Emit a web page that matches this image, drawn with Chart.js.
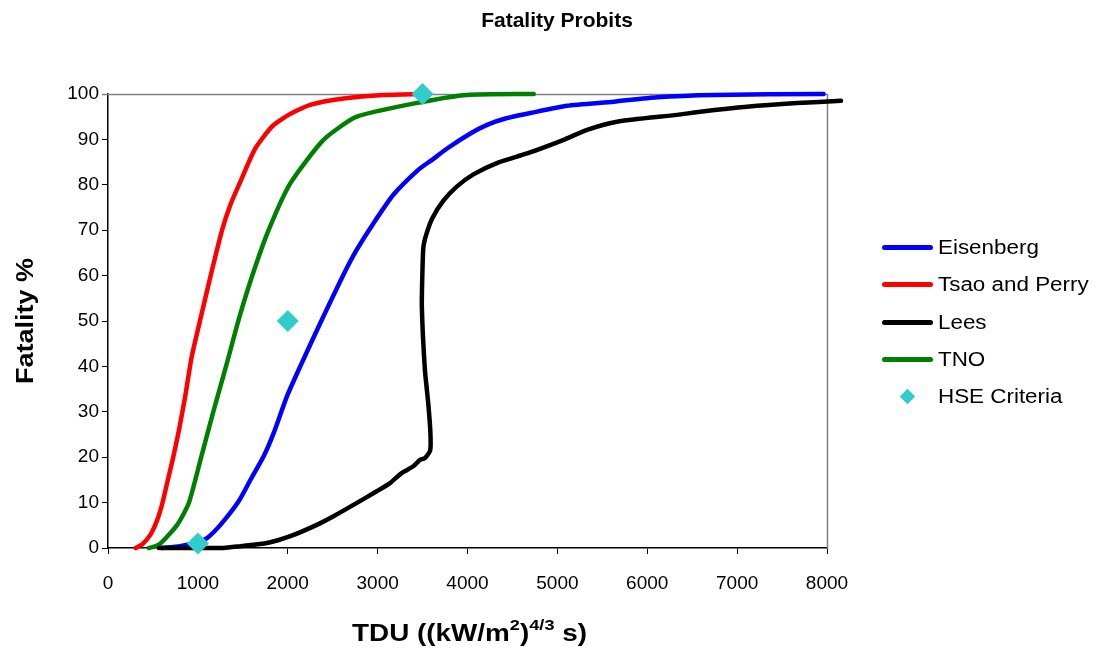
<!DOCTYPE html>
<html>
<head>
<meta charset="utf-8">
<script src="https://cdn.jsdelivr.net/npm/chart.js@4.4.1/dist/chart.umd.min.js"></script>
<style>
html,body{margin:0;padding:0;background:#fff;}
#wrap{position:relative;width:1097px;height:654px;overflow:hidden;}
#c{position:absolute;left:0;top:0;}
#legend{position:absolute;left:0;top:0;width:1097px;height:654px;pointer-events:none;font-family:"Liberation Sans",Arial,sans-serif;color:#000;}
.sw{position:absolute;height:5px;border-radius:2.5px;}
.dm{position:absolute;width:11px;height:11px;background:#33CCCC;transform:rotate(45deg);}
.tx{position:absolute;font-size:20px;line-height:22px;white-space:nowrap;transform:scaleX(1.12);transform-origin:0 50%;}
</style>
</head>
<body>
<div id="wrap">
<canvas id="c" width="1097" height="654"></canvas>
<div id="legend"></div>
</div>
<script>
// ---- data ----
const chartTitle = 'Fatality Probits';
const yTitle = 'Fatality %';
const seriesNames = ['Eisenberg', 'Tsao and Perry', 'Lees', 'TNO', 'HSE Criteria'];
const seriesColors = ['#0000FF', '#FF0000', '#000000', '#008000', '#33CCCC'];

const xTicks = [0, 1000, 2000, 3000, 4000, 5000, 6000, 7000, 8000];
const yTicks = [0, 10, 20, 30, 40, 50, 60, 70, 80, 90, 100];

const eisenbergX = [600, 800, 1000, 1103, 1251, 1454, 1590, 1732, 1843, 1991, 2139, 2361, 2620, 2768, 2953, 3175, 3452, 3606, 3773, 4032, 4218, 4422, 4700, 5108, 5626, 6109, 6739, 7962];
const eisenbergY = [0, 0.4, 1.3, 2.2, 5.1, 10.3, 15.2, 20.2, 25.3, 33.4, 40, 49.5, 60.2, 65.7, 71.5, 77.8, 83.3, 85.5, 88, 91.3, 93.2, 94.6, 95.8, 97.4, 98.3, 99.3, 99.8, 100];

const tsaoX = [307, 381, 474, 548, 603, 660, 720, 790, 860, 930, 1029, 1140, 1269, 1362, 1473, 1639, 1824, 2009, 2250, 2620, 3064, 3500];
const tsaoY = [0, 0.8, 3, 6.2, 9.7, 14.5, 19.5, 26, 33.5, 42, 50.5, 59.8, 70, 75.6, 80.7, 88, 92.8, 95.4, 97.6, 99, 99.8, 100];

const leesX = [566, 1288, 1473, 1769, 2028, 2324, 2509, 2731, 2990, 3138, 3267, 3397, 3471, 3526, 3585, 3587, 3563, 3526, 3492, 3500, 3510, 3545, 3610, 3732, 3880, 4066, 4340, 4663, 5070, 5330, 5664, 6331, 6591, 7110, 7666, 8156];
const leesY = [0, 0, 0.4, 1.1, 2.6, 5.1, 7, 9.5, 12.5, 14.3, 16.5, 18, 19.4, 19.8, 21.5, 25.5, 31.9, 39.3, 53.2, 62, 66.4, 69.3, 72.7, 76.5, 79.6, 82.3, 84.9, 86.9, 89.9, 92.1, 93.9, 95.4, 96.1, 97.2, 98, 98.5];

const tnoX = [455, 566, 770, 899, 1029, 1177, 1320, 1454, 1602, 1787, 2028, 2398, 2768, 3508, 3995, 4737];
const tnoY = [0, 0.7, 5.1, 9.9, 19.4, 30.4, 40.5, 50.3, 59.8, 70, 80.3, 89.9, 95, 98.3, 99.8, 100];

const hseX = [1000, 2000, 3500];
const hseY = [1, 50, 100];

// ---- build ----
const FONT = '"Liberation Sans", Arial, sans-serif';
function pts(xs, ys) { return xs.map((x, i) => ({ x: x, y: ys[i] })); }

function lineSet(i, xs, ys, order) {
  return {
    label: seriesNames[i], data: pts(xs, ys), showLine: true,
    borderColor: seriesColors[i], backgroundColor: seriesColors[i],
    borderWidth: 4.5, pointRadius: 0, pointHoverRadius: 0, tension: 0.2,
    borderCapStyle: 'round', borderJoinStyle: 'round', fill: false, clip: false, order: order
  };
}

const datasets = [
  lineSet(0, eisenbergX, eisenbergY, 3),
  lineSet(1, tsaoX, tsaoY, 5),
  lineSet(2, leesX, leesY, 2),
  lineSet(3, tnoX, tnoY, 4),
  {
    label: seriesNames[4], data: pts(hseX, hseY), showLine: false,
    pointStyle: 'rectRot', pointRadius: 11, pointHoverRadius: 11,
    backgroundColor: seriesColors[4], borderColor: seriesColors[4], borderWidth: 0,
    clip: false, order: 1
  }
];

const framePlugin = {
  id: 'frame',
  beforeDatasetsDraw(chart) {
    const a = chart.chartArea, ctx = chart.ctx;
    ctx.save();
    ctx.strokeStyle = '#808080';
    ctx.lineWidth = 1.5;
    ctx.beginPath();
    ctx.moveTo(a.left - 6, a.top + 0.5);
    ctx.lineTo(a.right + 0.5, a.top + 0.5);
    ctx.lineTo(a.right + 0.5, a.bottom);
    ctx.stroke();
    ctx.restore();
  }
};

const textPlugin = {
  id: 'texts',
  afterDraw(chart) {
    const ctx = chart.ctx, a = chart.chartArea;
    ctx.save();
    ctx.fillStyle = '#000';
    ctx.textBaseline = 'alphabetic';
    // main title
    ctx.font = 'bold 21px ' + FONT;
    ctx.textAlign = 'center';
    ctx.fillText(chartTitle, 557, 27);
    // y title
    ctx.save();
    ctx.font = 'bold 23px ' + FONT;
    const yw = ctx.measureText(yTitle).width;
    ctx.translate(33, (a.top + a.bottom) / 2);
    ctx.rotate(-Math.PI / 2);
    ctx.scale(126 / yw, 1);
    ctx.textAlign = 'center';
    ctx.fillText(yTitle, 0, 0);
    ctx.restore();
    // x title with superscripts
    const parts = [
      { t: 'TDU ((kW/m', sup: false },
      { t: '2', sup: true },
      { t: ')', sup: false },
      { t: '4/3', sup: true },
      { t: ' s)', sup: false }
    ];
    const base = 'bold 23px ' + FONT, supF = 'bold 15px ' + FONT;
    let total = 0;
    parts.forEach(p => { ctx.font = p.sup ? supF : base; p.w = ctx.measureText(p.t).width; total += p.w; });
    const target = 235;
    const sx = target / total;
    ctx.save();
    ctx.translate((a.left + a.right) / 2 + 2, 641);
    ctx.scale(sx, 1);
    ctx.textAlign = 'left';
    let x = -total / 2;
    parts.forEach(p => {
      ctx.font = p.sup ? supF : base;
      ctx.fillText(p.t, x, p.sup ? -11 : 0);
      x += p.w;
    });
    ctx.restore();
    ctx.restore();
  }
};

function axis(ticksArr, isX) {
  return {
    type: 'linear',
    min: ticksArr[0], max: ticksArr[ticksArr.length - 1],
    afterBuildTicks(s) { s.ticks = ticksArr.map(v => ({ value: v })); },
    ticks: {
      autoSkip: false, maxRotation: 0, color: '#000',
      font: { family: FONT, size: 19 },
      padding: isX ? 18 : 3,
      callback: v => String(v)
    },
    grid: { display: true, drawOnChartArea: false, drawTicks: true, tickLength: 6, color: '#000', lineWidth: 1 },
    border: { display: true, color: '#000', width: 1.5 },
    afterFit(s) { if (isX) s.height = 106; else s.width = 108; }
  };
}

new Chart(document.getElementById('c'), {
  type: 'scatter',
  data: { datasets: datasets },
  options: {
    responsive: false, animation: false, devicePixelRatio: 1,
    layout: { padding: { top: 94, right: 270, left: 0, bottom: 0 } },
    plugins: { legend: { display: false }, title: { display: false }, tooltip: { enabled: false } },
    events: [],
    scales: { x: axis(xTicks, true), y: axis(yTicks, false) }
  },
  plugins: [framePlugin, textPlugin]
});

// ---- HTML legend ----
const leg = document.getElementById('legend');
const rowY0 = 247.3, rowStep = 37.35;
seriesNames.forEach((name, i) => {
  const cy = rowY0 + i * rowStep;
  if (i < 4) {
    const s = document.createElement('div');
    s.className = 'sw';
    s.style.left = '882px'; s.style.width = '51px';
    s.style.top = (cy - 2.5) + 'px';
    s.style.background = seriesColors[i];
    leg.appendChild(s);
  } else {
    const d = document.createElement('div');
    d.className = 'dm';
    d.style.left = (907 - 5.5) + 'px';
    d.style.top = (cy - 5.5) + 'px';
    leg.appendChild(d);
  }
  const t = document.createElement('div');
  t.className = 'tx';
  t.textContent = name;
  t.style.left = '938px';
  t.style.top = (cy - 11.5) + 'px';
  leg.appendChild(t);
});
</script>
</body>
</html>
